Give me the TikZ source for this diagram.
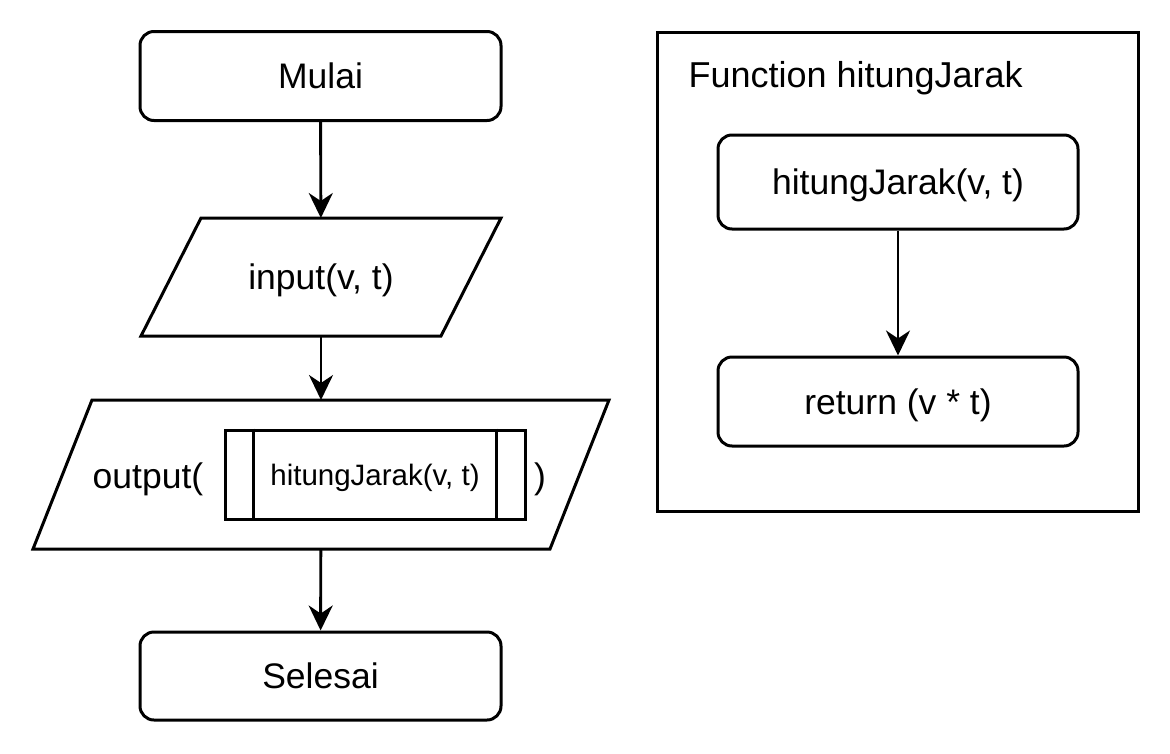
\documentclass[tikz,border=0pt]{standalone}
\usepackage{fontspec}
\setmainfont{Liberation Sans}
\usetikzlibrary{arrows.meta}
\begin{document}
\begin{tikzpicture}[x=1pt,y=-1pt,
  line width=3pt,
  font=\fontsize{35.5}{42}\selectfont,
  txt/.style={text height=25pt, text depth=0pt},
  smalltxt/.style={font=\fontsize{29.5}{35}\selectfont, text height=21pt, text depth=0pt},
  box/.style={draw, rounded corners=14pt, minimum width=361pt, minimum height=89pt, inner sep=0pt, txt},
  ghost/.style={inner sep=0pt, outer sep=0pt, txt},
  arr/.style={-{Stealth[length=25pt,width=24pt,inset=8pt]}, line width=2.9pt}
]
\useasboundingbox (0,0) rectangle (1170,753);

% main flow
\node[box] (mulai) at (320.5,76) {Mulai};

\draw (201,218) -- (501,218) -- (441,336) -- (141,336) -- cycle;
\node[ghost, minimum width=300pt, minimum height=118pt] (input) at (321,277) {input(v, t)};

\draw (92,400) -- (609,400) -- (550,549) -- (33,549) -- cycle;
\node[ghost, minimum width=300pt, minimum height=149pt] (output) at (321,474.5) {};
\node[ghost, anchor=center] (outlbl) at (148,476) {output(};
\node[ghost, anchor=center] (outclose) at (540,476) {)};
\node[draw, inner sep=0pt, minimum width=300pt, minimum height=89pt, smalltxt] (call) at (375,474.5) {hitungJarak(v, t)};
\draw ([xshift=30pt]call.north west) -- ([xshift=30pt]call.south west);
\draw ([xshift=-30pt]call.north east) -- ([xshift=-30pt]call.south east);

\node[box, minimum height=88pt] (selesai) at (320.5,676) {Selesai};

\draw[arr] (mulai) -- (input);
\draw[arr] (input) -- (output);
\draw[arr] (output) -- (selesai);

% function frame
\node[draw, inner sep=0pt, minimum width=481pt, minimum height=479pt] (frame) at (898,272) {};
\node[inner sep=0pt, anchor=base west, font=\fontsize{36}{42}\selectfont] (ftitle) at (687,87) {Function hitungJarak};
\node[box, minimum width=360pt, minimum height=94pt] (fcall) at (898,182) {hitungJarak(v, t)};
\node[box, minimum width=360pt, minimum height=89pt] (fret) at (898,401.5) {return (v * t)};
\draw[arr] (fcall) -- (fret);
\end{tikzpicture}
\end{document}
